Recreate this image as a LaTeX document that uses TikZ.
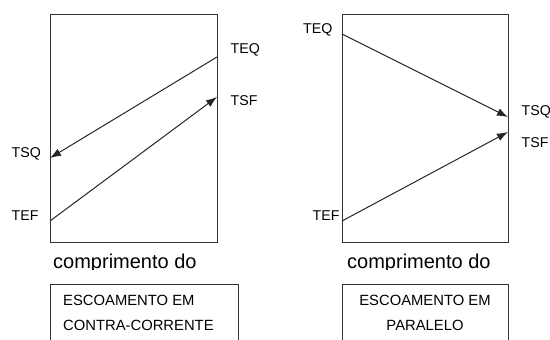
\documentclass[tikz,border=0pt]{standalone}
\usepackage{fontspec}
\setmainfont{Liberation Sans}
\usetikzlibrary{arrows.meta}
\tikzset{
	frame/.style   = {draw=black!80, line width=1pt},
	flow/.style    = {draw=black!85, line width=1pt},
	temp/.style    = {inner sep=0pt, anchor=west, font=\fontsize{14.2}{16}\selectfont},
	axis/.style    = {inner sep=0pt, anchor=base west, font=\fontsize{20}{23}\selectfont},
	caption/.style = {inner sep=0pt, font=\fontsize{14.8}{17}\selectfont},
	point/.style   = {coordinate},
}

\begin{document}
\begin{tikzpicture}[x=1pt, y=-1pt, >={Latex[length=11pt,width=8pt]}]
	\useasboundingbox (0,0) rectangle (550,340);

	% Draw the counter-current exchanger
	\draw[frame] (50,14) rectangle (217,242);
	\draw
	node[point] (aeq) at (217,57)  {}
	node[point] (asq) at (50,158)  {}
	node[point] (aef) at (50,221)  {}
	node[point] (asf) at (217,97)  {};
	\node[temp] (aeqlabel) at (230.5,50)  {TEQ};
	\node[temp] (asflabel) at (230.5,100.5) {TSF};
	\node[temp] (asqlabel) at (11.5,154)  {TSQ};
	\node[temp] (aeflabel) at (11.5,216)  {TEF};
	\draw[flow, ->] (aeq) -- (asq);
	\draw[flow, ->] (aef) -- (asf);

	% Draw the parallel exchanger
	\draw[frame] (342,14) rectangle (508,242);
	\draw
	node[point] (beq) at (342,34)  {}
	node[point] (bsq) at (508,117) {}
	node[point] (bef) at (342,221) {}
	node[point] (bsf) at (508,132) {};
	\node[temp] (beqlabel) at (303,30)    {TEQ};
	\node[temp] (beflabel) at (312.5,216) {TEF};
	\node[temp] (bsqlabel) at (521.5,112) {TSQ};
	\node[temp] (bsflabel) at (521.5,142.5) {TSF};
	\draw[flow, ->] (beq) -- (bsq);
	\draw[flow, ->] (bef) -- (bsf);

	% Axis texts, cut off at the bottom
	\begin{scope}
		\clip (0,240) rectangle (550,269);
		\node[axis] (aaxis) at (53,268)  {comprimento do};
		\node[axis] (baxis) at (347,268) {comprimento do};
	\end{scope}

	% Draw the caption boxes
	\draw[frame] (50,360) |- (238,284) -- (238,360);
	\node[caption, anchor=west] (acapone) at (63,300.5) {ESCOAMENTO EM};
	\node[caption, anchor=west] (acaptwo) at (63,325)   {CONTRA-CORRENTE};

	\draw[frame] (342,360) |- (508,284) -- (508,360);
	\node[caption] (bcapone) at (425,300.5) {ESCOAMENTO EM};
	\node[caption] (bcaptwo) at (425,325)   {PARALELO};
\end{tikzpicture}
\end{document}
